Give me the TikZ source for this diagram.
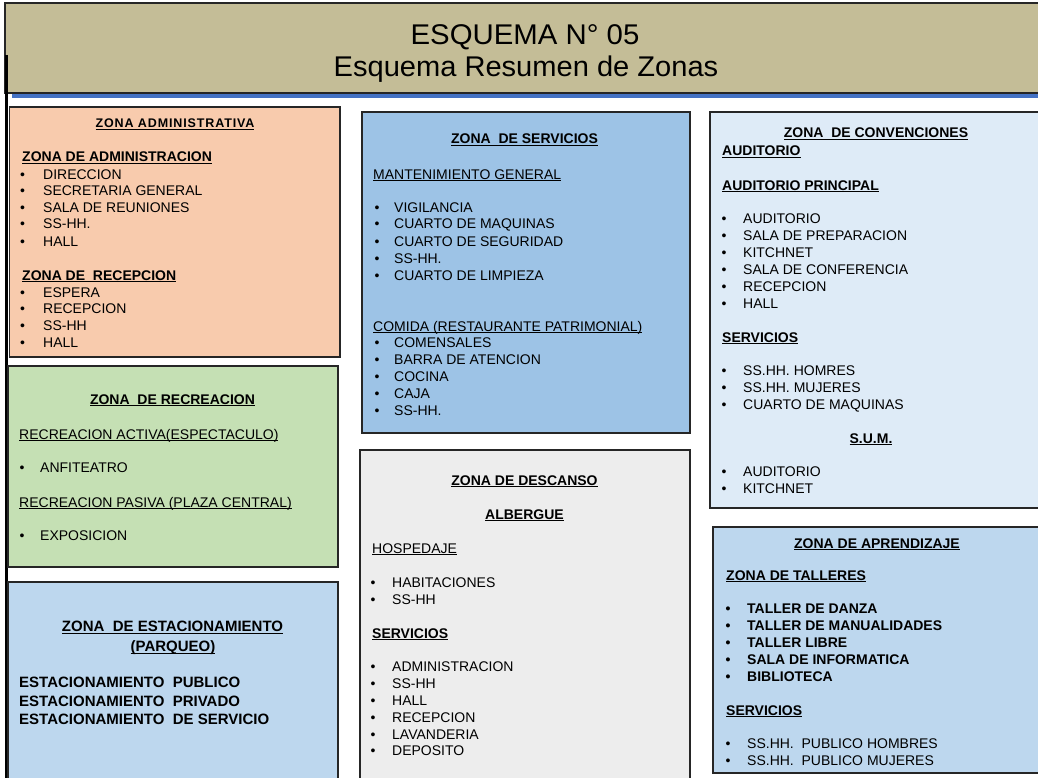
\documentclass[tikz,border=0pt]{standalone}
\usepackage{fontspec}
\setmainfont{Liberation Sans}
\newfontfamily\hdspaced[LetterSpace=7]{Liberation Sans}
\definecolor{titlec}{HTML}{C4BD97}
\definecolor{bandc}{HTML}{4472C4}
\definecolor{admc}{HTML}{F8CBAD}
\definecolor{recc}{HTML}{C5E0B4}
\definecolor{estc}{HTML}{BDD7EE}
\definecolor{srvc}{HTML}{9DC3E6}
\definecolor{desc}{HTML}{EDEDED}
\definecolor{conc}{HTML}{DEEBF7}
\definecolor{aprc}{HTML}{BDD7EE}
\newcommand\ulx[1]{\underline{\smash{#1}}}
\tikzset{
  zbox/.style={draw=black!85, line width=1.6pt},
  hdr/.style={anchor=base, inner sep=0pt, font=\fontsize{14}{16}\selectfont\bfseries},
  sbh/.style={anchor=base west, inner sep=0pt, font=\fontsize{14}{16}\selectfont\bfseries},
  snm/.style={anchor=base west, inner sep=0pt, font=\fontsize{14}{16}\selectfont},
  itm/.style={anchor=base west, inner sep=0pt, font=\fontsize{14}{16}\selectfont},
  itb/.style={anchor=base west, inner sep=0pt, font=\fontsize{14}{16}\selectfont\bfseries},
  est/.style={inner sep=0pt, font=\fontsize{15}{17}\selectfont\bfseries},
  ttl/.style={anchor=base, inner sep=0pt, font=\fontsize{28.5}{32}\selectfont}
}
\begin{document}
\begin{tikzpicture}[x=1pt,y=-1pt]
\useasboundingbox (0,0) rectangle (1038,778);
% title
\fill[bandc] (12,93) rectangle (1045,98.5);
\draw[zbox, fill=titlec, line width=2pt] (5,3) rectangle (1050,93);
\node[ttl] (t1) at (525,45) {\scalebox{1.03}[1]{ESQUEMA N° 05}};
\node[ttl] (t2) at (526,77) {\scalebox{1.02}[1]{Esquema Resumen de Zonas}};
\draw[line width=2.5pt] (6.5,55) -- (6.5,780);
% boxes
\draw[zbox, fill=admc] (9.5,107) rectangle (340,357);
\draw[zbox, fill=recc] (8,366) rectangle (338,567);
\draw[zbox, fill=estc] (8,582) rectangle (338,795);
\draw[zbox, fill=srvc] (362,112) rectangle (690,433);
\draw[zbox, fill=desc] (360,450) rectangle (690,795);
\draw[zbox, fill=conc] (710,112) rectangle (1050,508);
\draw[zbox, fill=aprc] (713,527) rectangle (1050,773);
% ZONA ADMINISTRATIVA
\node[anchor=base, inner sep=0pt, font=\fontsize{12.5}{14}\hdspaced\bfseries] (adH) at (175,128) {\ulx{ZONA ADMINISTRATIVA}};
\node[sbh] (adS1) at (22,162) {\ulx{ZONA DE ADMINISTRACION}};
\foreach \t/\y [count=\i] in {DIRECCION/179, SECRETARIA GENERAL/196, SALA DE REUNIONES/212, SS-HH./229, HALL/246}
  \node[itm] (adA\i) at (20,\y) {\makebox[23pt][l]{\textbullet}\t};
\node[sbh] (adS2) at (22,280) {\ulx{ZONA DE\ \ RECEPCION}};
\foreach \t/\y [count=\i] in {ESPERA/297, RECEPCION/313, SS-HH/330, HALL/347}
  \node[itm] (adB\i) at (20,\y) {\makebox[23pt][l]{\textbullet}\t};
% ZONA DE RECREACION
\node[hdr] (reH) at (172.5,404) {\ulx{ZONA\ \ DE RECREACION}};
\node[snm] (reS1) at (19,439) {\ulx{RECREACION ACTIVA(ESPECTACULO)}};
\node[itm] (reA1) at (19.5,472) {\makebox[20.5pt][l]{\textbullet}ANFITEATRO};
\node[snm] (reS2) at (19,507) {\ulx{RECREACION PASIVA (PLAZA CENTRAL)}};
\node[itm] (reB1) at (19.5,540) {\makebox[20.5pt][l]{\textbullet}EXPOSICION};
% ZONA DE ESTACIONAMIENTO
\node[est, anchor=base] (esH1) at (172.5,631.4) {\ulx{ZONA\ \ DE ESTACIONAMIENTO}};
\node[est, anchor=base] (esH2) at (173,651.4) {\ulx{(PARQUEO)}};
\node[est, anchor=base west] (es1) at (19,687.4) {ESTACIONAMIENTO\ \ PUBLICO};
\node[est, anchor=base west] (es2) at (19,706.4) {ESTACIONAMIENTO\ \ PRIVADO};
\node[est, anchor=base west] (es3) at (19,724.4) {ESTACIONAMIENTO\ \ DE SERVICIO};
% ZONA DE SERVICIOS
\node[hdr] (svH) at (524.5,144) {\ulx{ZONA\ \ DE SERVICIOS}};
\node[snm] (svS1) at (373,179) {\ulx{MANTENIMIENTO GENERAL}};
\foreach \t/\y [count=\i] in {VIGILANCIA/212, CUARTO DE MAQUINAS/229, CUARTO DE SEGURIDAD/246, SS-HH./263, CUARTO DE LIMPIEZA/280}
  \node[itm] (svA\i) at (374.5,\y) {\makebox[19.5pt][l]{\textbullet}\t};
\node[snm] (svS2) at (373,331) {\ulx{COMIDA (RESTAURANTE PATRIMONIAL)}};
\foreach \t/\y [count=\i] in {COMENSALES/347, BARRA DE ATENCION/364, COCINA/381, CAJA/398, SS-HH./415}
  \node[itm] (svB\i) at (374.5,\y) {\makebox[19.5pt][l]{\textbullet}\t};
% ZONA DE DESCANSO
\node[hdr] (dsH1) at (524.5,485) {\ulx{ZONA DE DESCANSO}};
\node[hdr] (dsH2) at (524.5,519) {\ulx{ALBERGUE}};
\node[snm] (dsS1) at (372,553) {\ulx{HOSPEDAJE}};
\foreach \t/\y [count=\i] in {HABITACIONES/587, SS-HH/604}
  \node[itm] (dsA\i) at (370.5,\y) {\makebox[21.5pt][l]{\textbullet}\t};
\node[sbh] (dsS2) at (372,638) {\ulx{SERVICIOS}};
\foreach \t/\y [count=\i] in {ADMINISTRACION/671, SS-HH/688, HALL/705, RECEPCION/722, LAVANDERIA/739, DEPOSITO/755}
  \node[itm] (dsB\i) at (370.5,\y) {\makebox[21.5pt][l]{\textbullet}\t};
% ZONA DE CONVENCIONES
\node[hdr] (cvH) at (876,138) {\ulx{ZONA\ \ DE CONVENCIONES}};
\node[sbh] (cvS0) at (722,156) {\ulx{AUDITORIO}};
\node[sbh] (cvS1) at (722,190) {\ulx{AUDITORIO PRINCIPAL}};
\foreach \t/\y [count=\i] in {AUDITORIO/223, SALA DE PREPARACION/240, KITCHNET/257, SALA DE CONFERENCIA/274, RECEPCION/291, HALL/308}
  \node[itm] (cvA\i) at (721.5,\y) {\makebox[21.5pt][l]{\textbullet}\t};
\node[sbh] (cvS2) at (722,342) {\ulx{SERVICIOS}};
\foreach \t/\y [count=\i] in {SS.HH. HOMRES/375, SS.HH. MUJERES/392, CUARTO DE MAQUINAS/409}
  \node[itm] (cvB\i) at (721.5,\y) {\makebox[21.5pt][l]{\textbullet}\t};
\node[hdr] (cvS3) at (871,443) {\ulx{S.U.M.}};
\foreach \t/\y [count=\i] in {AUDITORIO/476, KITCHNET/493}
  \node[itm] (cvC\i) at (721.5,\y) {\makebox[21.5pt][l]{\textbullet}\t};
% ZONA DE APRENDIZAJE
\node[hdr] (apH) at (877,548) {\ulx{ZONA DE APRENDIZAJE}};
\node[sbh] (apS1) at (726,580) {\ulx{ZONA DE TALLERES}};
\foreach \t/\y [count=\i] in {TALLER DE DANZA/613, TALLER DE MANUALIDADES/630, TALLER LIBRE/647, SALA DE INFORMATICA/664, BIBLIOTECA/681}
  \node[itb] (apA\i) at (725.5,\y) {\makebox[21.5pt][l]{\textbullet}\t};
\node[sbh] (apS2) at (726,715) {\ulx{SERVICIOS}};
\foreach \t/\y [count=\i] in {SS.HH.\ \ PUBLICO HOMBRES/748, SS.HH.\ \ PUBLICO MUJERES/765}
  \node[itm] (apB\i) at (725.5,\y) {\makebox[21.5pt][l]{\textbullet}\t};
\end{tikzpicture}
\end{document}
